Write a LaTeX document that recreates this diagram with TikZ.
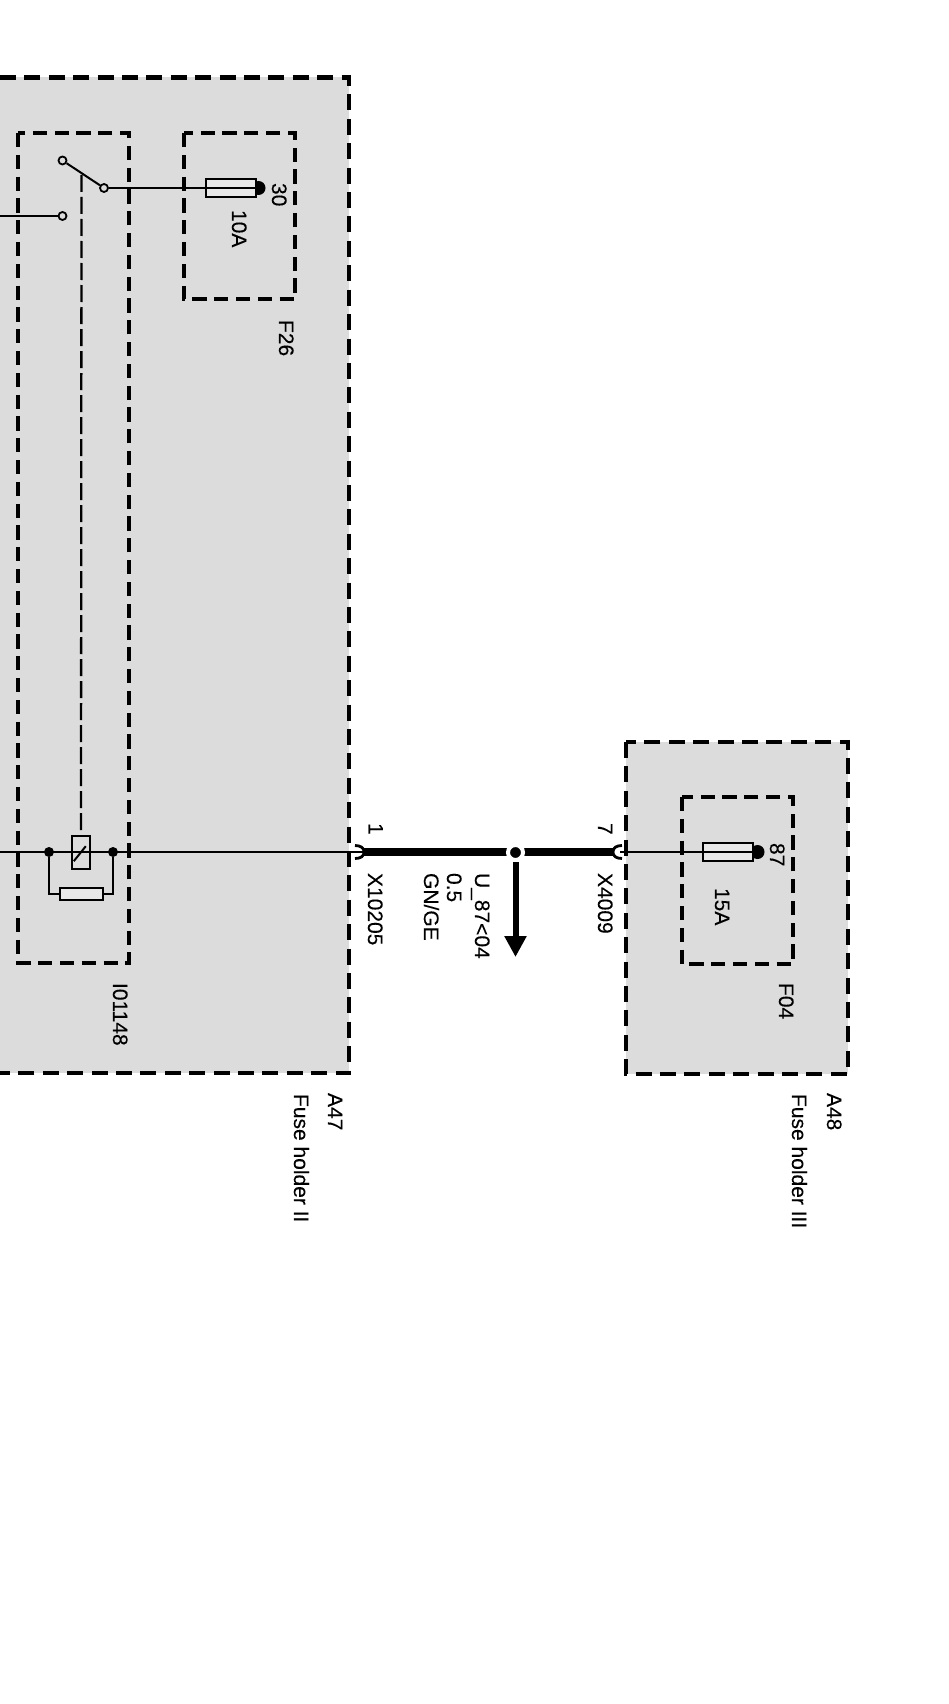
\documentclass[tikz,border=0pt]{standalone}
\usepackage{fontspec}
\setmainfont[FakeBold=0.15]{Liberation Sans}
\usetikzlibrary{arrows.meta}
\definecolor{panel}{HTML}{DCDCDC}
\definecolor{partfill}{HTML}{E8E8E8}
\tikzset{
  lab/.style={rotate=-90,anchor=base west,inner sep=0pt,outer sep=0pt,font=\fontsize{21}{25}\selectfont,text=black},
  outerbox/.style={line width=4.5pt,dash pattern=on 16pt off 8.4pt,line join=miter},
  innerbox/.style={line width=4.5pt,dash pattern=on 14.2pt off 7.6pt,line join=miter},
  wire/.style={line width=2pt},
  thinwire/.style={line width=1.6pt},
  actuator/.style={line width=2.3pt,dash pattern=on 17pt off 5pt},
  thickwire/.style={line width=7.5pt},
  plug/.style={line width=2.8pt},
  contact/.style={circle,draw,fill=panel,line width=1.8pt,minimum size=8pt,inner sep=0pt},
  junction/.style={circle,fill=black,minimum size=10pt,inner sep=0pt},
  termdot/.style={circle,fill=black,minimum size=14pt,inner sep=0pt},
  part/.style={rectangle,draw,line width=2.4pt,inner sep=0pt},
}
\begin{document}
\begin{tikzpicture}[x=1pt,y=-1pt]
\useasboundingbox (0,0) rectangle (948,1704);
% panels
\fill[panel] (0,77.5) rectangle (349,1073);
\fill[panel] (626,742) rectangle (848,1074);
\draw[outerbox] (0,77.5) -- (349,77.5) -- (349,1073) -- (0,1073);
\draw[outerbox] (626,742) rectangle (848,1074);
\draw[innerbox] (18,133) rectangle (129,963);
\draw[innerbox] (184,133) rectangle (295,299);
\draw[innerbox] (682,797) rectangle (793,964);
% free ends
\coordinate (w0) at (0,852);
\coordinate (w1) at (0,216);
\coordinate (aS) at (515.5,862);
\coordinate (aE) at (515.5,957);
\coordinate (act) at (81.5,175);
% parts
\node[contact] (up) at (62.5,160.5) {};
\node[contact] (low) at (62.5,216) {};
\node[contact] (pole) at (104,188) {};
\node[termdot] (t30) at (258.5,188) {};
\node[part,fill=partfill,minimum width=50pt,minimum height=18pt] (fuseA) at (231,188) {};
\node[part,minimum width=18pt,minimum height=33pt] (coil) at (81,852.5) {};
\node[part,fill=partfill,minimum width=43pt,minimum height=12pt] (res) at (81.5,894) {};
\node[junction] (j1) at (49,852) {};
\node[junction] (j2) at (113,852) {};
\coordinate (c1) at (364,852);
\coordinate (c7) at (613,852);
\coordinate (c7b) at (620,852);
\node[termdot] (t87) at (757.5,852) {};
\node[part,fill=partfill,minimum width=50pt,minimum height=18pt] (fuseB) at (728,852) {};
% wires
\draw[wire] (w1) -- (low);
\draw[wire] (up) -- (pole);
\draw[wire] (pole) -- (t30.center);
\draw[actuator] (act) -- (coil.north);
\draw[wire] (w0) -- (c1);
\draw[wire] (j1) |- (res.west);
\draw[wire] (j2) |- (res.east);
\draw[wire] (coil.south west)++(3,-9) -- ++(12,-15);
\draw[thinwire] (c7b) -- (t87.center);
% connectors
\draw[plug] (355,845.5) .. controls (361,845.5) and (364,848) .. (c1) .. controls (364,856) and (361,858.5) .. (355,858.5);
\draw[plug] (622,845.5) .. controls (616,845.5) and (613,848) .. (c7) .. controls (613,856) and (616,858.5) .. (622,858.5);
\draw[thickwire] (c1) -- (c7);
\node[circle,fill=black,draw=white,line width=4pt,minimum size=15pt,inner sep=0pt] (jun) at (515.5,852.5) {};
\draw[line width=6pt,-{Triangle[length=21pt,width=21pt]}] (aS) -- (aE);
% labels
\node[lab] (l30) at (272,183) {30};
\node[lab] (l10a) at (232,210) {10A};
\node[lab] (lf26) at (279,320) {F26};
\node[lab] (li) at (113,983) {I01148};
\node[lab] (la47) at (328,1093) {A47};
\node[lab] (lfh2) at (294,1094) {Fuse holder II};
\node[lab] (l1) at (368.5,823) {1};
\node[lab] (lx1) at (368,873) {X10205};
\node[lab] (lge) at (424,873) {GN/GE};
\node[lab] (l05) at (447,873) {0.5};
\node[lab] (lu) at (475,873) {U\_87<04};
\node[lab] (l7) at (598,823) {7};
\node[lab] (lx4) at (598,873) {X4009};
\node[lab] (l15) at (715,888) {15A};
\node[lab] (l87) at (770,843) {87};
\node[lab] (lf04) at (779,983) {F04};
\node[lab] (la48) at (827,1093) {A48};
\node[lab] (lfh3) at (792,1094) {Fuse holder III};
\end{tikzpicture}
\end{document}
